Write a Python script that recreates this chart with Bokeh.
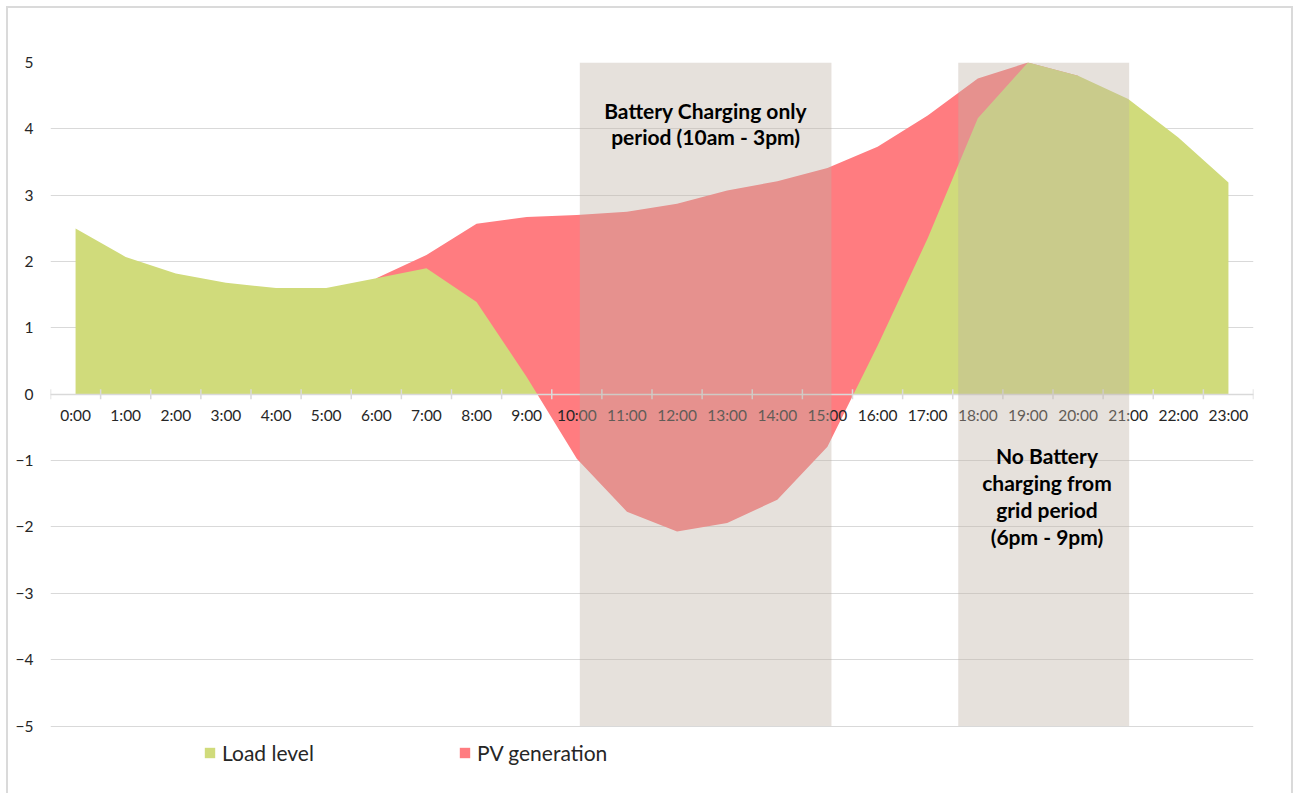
import numpy as np
from bokeh.plotting import figure
from bokeh.models import Range1d, FixedTicker, BoxAnnotation, Label, Legend, LegendItem
from bokeh.core.properties import value
from bokeh.embed import file_html
from bokeh.resources import INLINE

# ---------------- data ----------------
hours = ["0:00", "1:00", "2:00", "3:00", "4:00", "5:00", "6:00", "7:00", "8:00",
         "9:00", "10:00", "11:00", "12:00", "13:00", "14:00", "15:00", "16:00",
         "17:00", "18:00", "19:00", "20:00", "21:00", "22:00", "23:00"]

load_level = [2.50, 2.07, 1.82, 1.68, 1.60, 1.60, 1.75, 1.90, 1.39, 0.26,
              -0.97, -1.77, -2.07, -1.94, -1.59, -0.79, 0.73, 2.35, 4.16, 5.00,
              4.80, 4.45, 3.87, 3.19]

pv_generation = [None, None, None, None, None, None, 1.75, 2.10, 2.57, 2.67,
                 2.70, 2.75, 2.87, 3.07, 3.21, 3.41, 3.73, 4.20, 4.76, 5.00,
                 4.80, None, None, None]

y_ticks = [-5, -4, -3, -2, -1, 0, 1, 2, 3, 4, 5]

period_start = [10.06, 17.61]
period_end = [15.08, 21.02]
period_text = ["Battery Charging only\nperiod (10am - 3pm)",
               "No Battery\ncharging from\ngrid period\n(6pm - 9pm)"]
period_text_x = [12.57, 19.38]
period_text_y = [4.08, -1.535]

GREEN = "#D0DB7B"
RED = "#FF7C80"
GRID = "#D9D9D9"
TXT = "#262626"
FONT = "Lato"

# ---------------- figure ----------------
p = figure(width=1287, height=787, output_backend="svg", toolbar_location=None,
           x_range=Range1d(-0.5, 23.5), y_range=Range1d(-6.047, 5.0),
           x_axis_location=None,
           min_border_left=42, min_border_right=42, min_border_top=54,
           min_border_bottom=0, outline_line_color=None,
           background_fill_color="white", border_fill_color="white")
p.styles = {"border": "2px solid #DADADA", "border-bottom": "none",
            "margin-left": "6px", "margin-top": "6px"}

p.xgrid.visible = False
p.ygrid.grid_line_color = GRID
p.ygrid.grid_line_width = 1
p.yaxis.ticker = FixedTicker(ticks=y_ticks)
p.yaxis.axis_line_color = None
p.yaxis.major_tick_line_color = None
p.yaxis.minor_tick_line_color = None
p.yaxis.major_tick_out = 0
p.yaxis.major_tick_in = 0
p.yaxis.major_label_standoff = 17
p.yaxis.major_label_text_font = FONT
p.yaxis.major_label_text_font_size = "15.5px"
p.yaxis.major_label_text_color = TXT

xs = np.arange(len(hours), dtype=float)

# red envelope (behind)
pv_x = [i for i, v in enumerate(pv_generation) if v is not None]
pv_y = [v for v in pv_generation if v is not None]
red_r = p.varea(x=pv_x, y1=0, y2=pv_y, fill_color=RED)

# split load line at its zero crossings: positive part green, negative part red
sx, sy = [], []
ll = np.asarray(load_level, dtype=float)
for i in range(len(ll)):
    if i > 0 and ll[i - 1] * ll[i] < 0:
        xc = xs[i - 1] + (xs[i] - xs[i - 1]) * ll[i - 1] / (ll[i - 1] - ll[i])
        sx.append(xc)
        sy.append(0.0)
    sx.append(xs[i])
    sy.append(ll[i])
sx = np.array(sx)
sy = np.array(sy)
green_r = p.varea(x=sx, y1=0, y2=np.maximum(sy, 0), fill_color=GREEN)
p.varea(x=sx, y1=0, y2=np.minimum(sy, 0), fill_color=RED)

# category axis drawn at y = 0
p.hspan(y=0, line_color=GRID, line_width=1.5)
bounds = np.arange(len(hours) + 1) - 0.5
p.scatter(x=bounds, y=0, marker="dash", angle=np.pi / 2, size=10,
          line_color=GRID, line_width=1.5)
p.text(x=xs, y=0, text=hours, text_align="center", text_baseline="middle",
       y_offset=21, text_font=value(FONT), text_font_size="15.5px", text_color=TXT)

# shaded periods
for a, b in zip(period_start, period_end):
    p.add_layout(BoxAnnotation(left=a, right=b, bottom=-5, top=5,
                               fill_color="#BFB2A5", fill_alpha=0.39,
                               line_alpha=0))

for t, x, y in zip(period_text, period_text_x, period_text_y):
    p.add_layout(Label(x=x, y=y, text=t, text_align="center",
                       text_baseline="middle", text_font=FONT,
                       text_font_style="bold", text_font_size="21px",
                       text_color="black", text_line_height=1.07))

legend = Legend(items=[LegendItem(label="Load level", renderers=[green_r]),
                       LegendItem(label="PV generation", renderers=[red_r])],
                orientation="horizontal", location=(153, 30),
                padding=0, margin=0, spacing=0, label_width=236,
                glyph_width=13, glyph_height=13, label_standoff=6,
                label_height=20, label_text_font=FONT,
                label_text_font_size="21px", label_text_color=TXT,
                border_line_color=None, background_fill_alpha=0)
p.add_layout(legend)

open("out.html", "w").write(file_html(p, INLINE))
